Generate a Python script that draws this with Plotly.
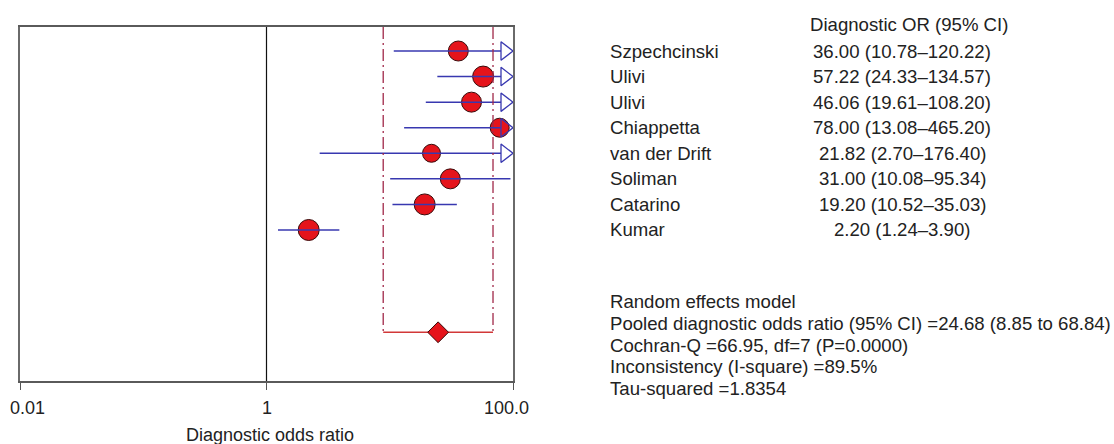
import plotly.graph_objects as go
import math

# ---------------- data ----------------
studies = ["Szpechcinski", "Ulivi", "Ulivi", "Chiappetta", "van der Drift",
           "Soliman", "Catarino", "Kumar"]
dor = [36.00, 57.22, 46.06, 78.00, 21.82, 31.00, 19.20, 2.20]
ci_low = [10.78, 24.33, 19.61, 13.08, 2.70, 10.08, 10.52, 1.24]
ci_high = [120.22, 134.57, 108.20, 465.20, 176.40, 95.34, 35.03, 3.90]

pooled_dor = 24.68
pooled_low = 8.85
pooled_high = 68.84
cochran_q = 66.95
q_df = 7
q_p = 0.0000
i_square = 89.5
tau_squared = 1.8354

tick_vals = [0.01, 1, 100]
tick_text = ["0.01", "1", "100.0"]
x_title = "Diagnostic odds ratio"
col_header = "Diagnostic OR (95% CI)"

# ---------------- layout (pixels) ----------------
W, H = 1114, 444
L, R, T, B = 20, 513, 27, 381
ROW1_PY = 51.0
ROW_PITCH = 25.57
POOLED_ROW = 12
FONT = "Liberation Sans, Arial, Helvetica, sans-serif"
FS = 18.6
TXT = "#222222"

x_lo_log, x_hi_log = math.log10(tick_vals[0]), math.log10(tick_vals[-1])
px_per_dec = (R - L) / (x_hi_log - x_lo_log)

y_top = 1 - (ROW1_PY - T) / ROW_PITCH
y_bot = 1 + (B - ROW1_PY) / ROW_PITCH
rows = list(range(1, len(studies) + 1))


def paper_x(px):
    return (px - L) / (R - L)


def paper_y(py):
    return (B - py) / (B - T)


# arrow geometry (marker size derived)
ARROW_SIZE = 16
arrow_r = ARROW_SIZE / 2
arrow_center = 10 ** (x_hi_log - arrow_r / px_per_dec)
arrow_base = 10 ** (x_hi_log - 1.5 * arrow_r / px_per_dec)

fig = go.Figure()

# study markers
marker_sizes = [20, 21, 20, 19, 18, 20, 21, 21]
fig.add_trace(go.Scatter(
    x=dor, y=rows, mode="markers",
    marker=dict(symbol="circle", size=marker_sizes, color="#e5141b", opacity=1,
                line=dict(color="#3a0a0a", width=1)),
    hoverinfo="skip", showlegend=False))

# CI lines
lx, ly = [], []
for lo, hi, r in zip(ci_low, ci_high, rows):
    hi_draw = arrow_base if hi > tick_vals[-1] else hi
    lx += [lo, hi_draw, None]
    ly += [r, r, None]
fig.add_trace(go.Scatter(
    x=lx, y=ly, mode="lines", line=dict(color="#3838b0", width=1.5),
    hoverinfo="skip", showlegend=False))

# arrows for truncated CIs
ax = [arrow_center for hi in ci_high if hi > tick_vals[-1]]
ay = [r for hi, r in zip(ci_high, rows) if hi > tick_vals[-1]]
fig.add_trace(go.Scatter(
    x=ax, y=ay, mode="markers",
    marker=dict(symbol="triangle-right-open", size=ARROW_SIZE, color="#3838b0",
                opacity=1, line=dict(width=1.3)),
    hoverinfo="skip", showlegend=False, cliponaxis=False))

# pooled CI dash-dot verticals
for v in (pooled_low, pooled_high):
    fig.add_trace(go.Scatter(
        x=[v, v], y=[y_top, POOLED_ROW], mode="lines",
        line=dict(color="#a02848", width=1.3, dash="12px,4px,2px,4px"),
        hoverinfo="skip", showlegend=False))

# pooled horizontal
fig.add_trace(go.Scatter(
    x=[pooled_low, pooled_high], y=[POOLED_ROW, POOLED_ROW], mode="lines",
    line=dict(color="#d23838", width=1.3),
    hoverinfo="skip", showlegend=False))

# pooled diamond
fig.add_trace(go.Scatter(
    x=[pooled_dor], y=[POOLED_ROW], mode="markers",
    marker=dict(symbol="diamond", size=16, color="#e5141b", opacity=1,
                line=dict(color="#3a0a0a", width=1)),
    hoverinfo="skip", showlegend=False))

# line of no effect
fig.add_shape(type="line", xref="x", yref="paper", x0=1, x1=1, y0=0, y1=1,
              line=dict(color="#111111", width=1.2), layer="above")

annotations = []
# tick labels
for tv, tt, shift in zip(tick_vals, tick_text, [7, 0, -7]):
    annotations.append(dict(
        x=math.log10(tv), xref="x", y=0, yref="paper", text=tt,
        showarrow=False, xanchor="center", yanchor="middle",
        xshift=shift, yshift=-(408 - B), font=dict(size=18, color=TXT, family=FONT)))
# axis title
annotations.append(dict(
    x=0.5, xref="paper", y=0, yref="paper", text=x_title, showarrow=False,
    xanchor="center", yanchor="middle", xshift=3, yshift=-(435 - B),
    font=dict(size=18, color=TXT, family=FONT)))

# right-hand table
NAME_PX = 608
VAL_PX = 902
HDR_PX = 909
HDR_PY = 24.5
annotations.append(dict(
    x=paper_x(HDR_PX), xref="paper", y=paper_y(HDR_PY), yref="paper", text=col_header,
    showarrow=False, xanchor="center", yanchor="middle",
    font=dict(size=FS, color=TXT, family=FONT)))
for name, d, lo, hi, r in zip(studies, dor, ci_low, ci_high, rows):
    annotations.append(dict(
        x=paper_x(NAME_PX), xref="paper", y=r, yref="y", text=name,
        showarrow=False, xanchor="left", yanchor="middle",
        font=dict(size=FS, color=TXT, family=FONT)))
    annotations.append(dict(
        x=paper_x(VAL_PX), xref="paper", y=r, yref="y",
        text=f"{d:.2f} ({lo:.2f}\u2013{hi:.2f})",
        showarrow=False, xanchor="center", yanchor="middle",
        font=dict(size=FS, color=TXT, family=FONT)))

stats_lines = [
    "Random effects model",
    f"Pooled diagnostic odds ratio (95% CI) ={pooled_dor:.2f} ({pooled_low:.2f} to {pooled_high:.2f})",
    f"Cochran-Q ={cochran_q:.2f}, df={q_df} (P={q_p:.4f})",
    f"Inconsistency (I-square) ={i_square:.1f}%",
    f"Tau-squared ={tau_squared:.4f}",
]
STATS_PY0 = 301.7
STATS_STEP = 21.65
for k, s in enumerate(stats_lines):
    annotations.append(dict(
        x=paper_x(NAME_PX), xref="paper", y=paper_y(STATS_PY0 + k * STATS_STEP),
        yref="paper", text=s, showarrow=False, xanchor="left", yanchor="middle",
        font=dict(size=FS, color=TXT, family=FONT)))

fig.update_layout(
    width=W, height=H,
    margin=dict(l=L, r=W - R, t=T, b=H - B, pad=0),
    paper_bgcolor="white", plot_bgcolor="white",
    font=dict(family=FONT, color=TXT, size=FS),
    xaxis=dict(type="log", range=[x_lo_log, x_hi_log], tickvals=tick_vals,
               ticktext=tick_text, showticklabels=False, ticks="outside",
               ticklen=7, tickwidth=1.2, tickcolor="#555555",
               showline=True, linecolor="#5a5a5a", linewidth=1.5, mirror=True,
               showgrid=False, zeroline=False),
    yaxis=dict(range=[y_bot, y_top], showticklabels=False, ticks="",
               showline=True, linecolor="#6a6a6a", linewidth=1.5, mirror=True,
               showgrid=False, zeroline=False),
    annotations=annotations,
    showlegend=False,
)

fig.write_html("out.html")
